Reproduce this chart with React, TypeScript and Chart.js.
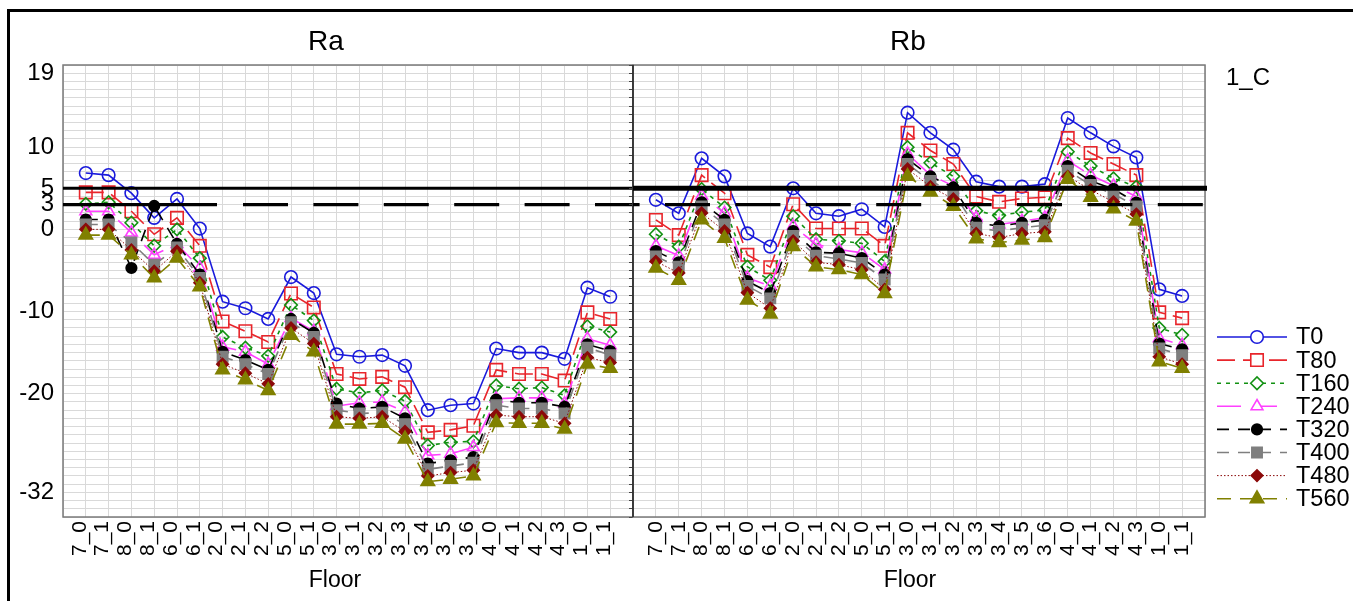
import React, { useEffect, useRef } from 'react';
import { Chart, registerables } from 'chart.js';
import { drawPoint } from 'chart.js/helpers';

Chart.register(...registerables);

const FONT = '"Liberation Sans", Arial, Helvetica, sans-serif';

// ---------------- data ----------------
const FLOORS = ['7_0', '7_1', '8_0', '8_1', '6_0', '6_1', '2_0', '2_1', '2_2', '5_0', '5_1', '3_0', '3_1', '3_2', '3_3', '3_4', '3_5', '3_6', '4_0', '4_1', '4_2', '4_3', '1_0', '1_1'];
const SERIES = ['T0', 'T80', 'T160', 'T240', 'T320', 'T400', 'T480', 'T560'];
const Y_TICK_LABELS = [19, 10, 5, 3, 0, -10, -20, -32];
const Y_MIN = -35;
const Y_MAX = 20;
const THRESHOLD_SOLID = 5;
const THRESHOLD_DASHED = 3;
const PANEL_TITLES = ['Ra', 'Rb'];
const X_TITLE = 'Floor';
const GROUP_LABEL = '1_C';

const RA_T0 = [6.85, 6.6, 4.4, 1.4, 3.7, 0.1, -8.8, -9.6, -10.9, -5.8, -7.75, -15.2, -15.5, -15.3, -16.6, -22.0, -21.4, -21.2, -14.5, -15.0, -15.0, -15.75, -7.1, -8.2];
const RA_T80 = [4.5, 4.5, 2.2, -0.6, 1.4, -2.0, -11.2, -12.4, -13.7, -7.8, -9.5, -17.6, -18.2, -17.95, -19.2, -24.7, -24.4, -23.9, -17.1, -17.6, -17.6, -18.4, -10.1, -10.9];
const RA_T160 = [3.1, 3.3, 0.8, -2.0, 0.0, -3.5, -13.1, -14.4, -15.4, -9.2, -11.1, -19.4, -19.9, -19.6, -20.9, -26.3, -25.9, -25.8, -19.0, -19.4, -19.25, -20.2, -11.8, -12.5];
const RA_T240 = [2.2, 2.2, -0.4, -3.1, -1.8, -4.7, -14.3, -14.9, -16.4, -10.8, -12.4, -21.5, -21.1, -21.0, -22.2, -27.5, -27.3, -26.5, -20.6, -20.5, -20.5, -21.2, -13.3, -14.1];
const RA_T320 = [1.2, 1.2, -4.7, 2.85, -1.75, -5.5, -14.9, -15.9, -17.1, -10.9, -12.6, -21.2, -21.8, -21.6, -23.0, -28.5, -28.1, -27.7, -20.7, -21.1, -21.1, -21.6, -14.0, -14.8];
const RA_T400 = [0.6, 0.6, -1.6, -4.3, -2.2, -5.9, -15.5, -16.4, -17.6, -11.3, -13.1, -22.0, -22.4, -22.3, -23.7, -29.2, -28.8, -28.4, -21.4, -21.8, -21.8, -22.4, -14.4, -15.3];
const RA_T480 = [0.0, 0.0, -2.5, -5.1, -2.65, -6.5, -16.4, -17.5, -18.8, -12.0, -13.9, -22.8, -23.0, -22.8, -24.6, -30.0, -29.6, -29.3, -22.6, -22.8, -22.8, -23.6, -15.6, -16.2];
const RA_T560 = [-0.7, -0.7, -3.1, -5.9, -3.5, -7.0, -17.1, -18.3, -19.6, -12.9, -14.9, -23.7, -23.7, -23.6, -25.5, -30.7, -30.4, -30.0, -23.5, -23.6, -23.6, -24.3, -16.4, -16.9];

const RB_T0 = [3.6, 1.95, 8.65, 6.45, -0.5, -2.1, 5.0, 1.95, 1.6, 2.45, 0.3, 14.2, 11.75, 9.7, 5.8, 5.2, 5.2, 5.5, 13.55, 11.75, 10.1, 8.75, -7.3, -8.1];
const RB_T80 = [1.15, -0.7, 6.6, 4.4, -3.1, -4.6, 3.06, 0.1, 0.1, 0.1, -2.0, 11.75, 9.6, 7.95, 4.0, 3.35, 3.75, 3.9, 11.1, 9.3, 7.95, 6.6, -10.1, -10.8];
const RB_T160 = [-0.6, -2.1, 4.9, 2.65, -4.55, -6.2, 1.6, -1.2, -1.4, -1.7, -3.9, 10.0, 8.1, 6.45, 2.25, 1.7, 2.1, 2.35, 9.45, 7.7, 6.2, 5.2, -12.0, -12.85];
const RB_T240 = [-2.0, -3.2, 4.1, 2.0, -5.9, -6.9, 0.4, -1.8, -2.45, -2.85, -4.9, 9.2, 6.6, 5.3, 1.4, 0.6, 1.0, 1.4, 8.35, 6.6, 5.3, 4.0, -13.25, -14.1];
const RB_T320 = [-2.65, -4.0, 3.3, 1.15, -6.3, -7.75, -0.2, -2.8, -2.9, -3.5, -5.5, 8.55, 6.45, 5.1, 0.8, 0.4, 0.8, 1.15, 7.7, 5.9, 4.9, 3.25, -13.9, -14.6];
const RB_T400 = [-3.3, -4.55, 2.8, 0.6, -6.9, -8.4, -0.8, -3.2, -3.6, -4.1, -6.1, 7.95, 5.9, 4.5, 0.2, -0.2, 0.2, 0.5, 7.15, 5.4, 4.3, 2.8, -14.5, -15.3];
const RB_T480 = [-3.9, -5.3, 2.0, -0.2, -7.7, -9.6, -1.4, -4.0, -4.3, -4.9, -7.3, 7.35, 5.2, 3.7, -0.5, -1.0, -0.5, -0.3, 6.45, 4.8, 3.35, 1.85, -15.5, -16.4];
const RB_T560 = [-4.7, -6.2, 1.15, -1.1, -8.6, -10.3, -2.1, -4.55, -4.9, -5.5, -7.8, 6.45, 4.55, 2.8, -1.15, -1.6, -1.3, -1.0, 6.1, 3.9, 2.5, 1.0, -16.1, -16.9];

const RA = [RA_T0, RA_T80, RA_T160, RA_T240, RA_T320, RA_T400, RA_T480, RA_T560];
const RB = [RB_T0, RB_T80, RB_T160, RB_T240, RB_T320, RB_T400, RB_T480, RB_T560];

// ---------------- styles ----------------
const COLORS = ['#1a1adb', '#e8252b', '#129112', '#ff40ff', '#000000', '#7f7f7f', '#8b0a0a', '#808000'];
const DASHES = [[], [18, 8], [4, 5], [24, 12], [12, 9], [12, 9], [1.5, 2], [14, 9]];
const POINT_STYLES = ['circle', 'rect', 'rectRot', 'triangle', 'circle', 'rect', 'rectRot', 'triangle'];
const POINT_RADII = [6.3, 8.8, 6.3, 6.8, 5.3, 7.3, 5.8, 7.8];
const FILLED = [false, false, false, false, true, true, true, true];
const LINE_WIDTHS = [1.6, 1.6, 1.6, 1.6, 1.6, 1.6, 1, 1.6];
const GRID = '#d9d9d9';

function makeDatasets(series: number[][]) {
  return series.map((vals, i) => ({
    label: SERIES[i],
    data: vals.map((v, j) => ({ x: j, y: v })),
    borderColor: COLORS[i],
    backgroundColor: FILLED[i] ? COLORS[i] : 'rgba(0,0,0,0)',
    borderDash: DASHES[i],
    borderWidth: LINE_WIDTHS[i],
    pointStyle: POINT_STYLES[i],
    pointRadius: POINT_RADII[i],
    pointBorderWidth: 1.6,
    pointBorderColor: COLORS[i],
    pointBackgroundColor: FILLED[i] ? COLORS[i] : 'rgba(0,0,0,0)',
    tension: 0,
    fill: false,
    order: -i,
  }));
}

const framePlugin = {
  id: 'frame',
  beforeDatasetsDraw(chart: any, _a: any, opts: any) {
    const { ctx, chartArea: a } = chart;
    ctx.save();
    ctx.strokeStyle = opts.color || '#777';
    ctx.lineWidth = 1.5;
    ctx.strokeRect(a.left, a.top, a.right - a.left, a.bottom - a.top);
    if (opts.leftColor) {
      ctx.strokeStyle = opts.leftColor;
      ctx.beginPath();
      ctx.moveTo(a.left, a.top);
      ctx.lineTo(a.left, a.bottom);
      ctx.stroke();
    }
    ctx.restore();
  },
};

const refLinesPlugin = {
  id: 'refLines',
  afterDatasetsDraw(chart: any, _a: any, opts: any) {
    const { ctx, chartArea: a } = chart;
    const y = chart.scales.y;
    ctx.save();
    ctx.strokeStyle = '#000';
    let py = y.getPixelForValue(THRESHOLD_SOLID);
    ctx.lineWidth = opts.solidWidth;
    ctx.setLineDash([]);
    ctx.beginPath();
    ctx.moveTo(a.left, py);
    ctx.lineTo(a.right + (opts.solidExtend || 0), py);
    ctx.stroke();
    py = y.getPixelForValue(THRESHOLD_DASHED);
    ctx.lineWidth = opts.dashWidth;
    ctx.setLineDash(opts.dash);
    ctx.lineDashOffset = opts.dashOffset || 0;
    ctx.beginPath();
    ctx.moveTo(a.left, py);
    ctx.lineTo(a.right, py);
    ctx.stroke();
    ctx.restore();
  },
};

const LEG_X0 = 1217;
const LEG_X1 = 1287;
const LEG_MARK_X = 1257;
const LEG_TEXT_X = 1296;
const LEG_TOP = 337;
const LEG_STEP = 23.1;

const legendPlugin = {
  id: 'sideLegend',
  afterDraw(chart: any, _a: any, opts: any) {
    const ctx = chart.ctx;
    const off = opts.canvasLeft || 0;
    chart.data.datasets.forEach((ds: any, i: number) => {
      const y = LEG_TOP + i * LEG_STEP;
      ctx.save();
      ctx.strokeStyle = COLORS[i];
      ctx.lineWidth = LINE_WIDTHS[i];
      ctx.setLineDash(DASHES[i]);
      ctx.beginPath();
      ctx.moveTo(LEG_X0 - off, y);
      ctx.lineTo(LEG_X1 - off, y);
      ctx.stroke();
      ctx.setLineDash([]);
      ctx.fillStyle = FILLED[i] ? COLORS[i] : '#fff';
      ctx.strokeStyle = COLORS[i];
      ctx.lineWidth = 1.6;
      drawPoint(ctx, { pointStyle: POINT_STYLES[i], radius: POINT_RADII[i], borderWidth: 1.6, rotation: 0 } as any, LEG_MARK_X - off, y);
      ctx.fillStyle = '#000';
      ctx.font = `23.5px ${FONT}`;
      ctx.textBaseline = 'middle';
      ctx.textAlign = 'left';
      ctx.fillText(ds.label, LEG_TEXT_X - off, y + 1);
      ctx.restore();
    });
  },
};

function xScale(labelOffset: number) {
  return {
    type: 'linear',
    min: -1,
    max: FLOORS.length,
    afterBuildTicks: (s: any) => {
      s.ticks = [-1, ...FLOORS.map((_, i) => i), FLOORS.length].map((value) => ({ value }));
    },
    afterFit: (s: any) => {
      s.height = 84;
    },
    ticks: {
      autoSkip: false,
      minRotation: 90,
      maxRotation: 90,
      padding: 4,
      labelOffset,
      color: '#000',
      font: { family: FONT, size: 21 },
      callback: (v: any) => FLOORS[v] ?? '',
    },
    grid: { color: GRID, lineWidth: 1, drawTicks: false },
    border: { display: false },
  };
}

function yScale(showLabels: boolean, width: number) {
  return {
    type: 'linear',
    min: Y_MIN,
    max: Y_MAX,
    afterBuildTicks: (s: any) => {
      const t: any[] = [];
      for (let v = Y_MIN; v <= Y_MAX; v++) t.push({ value: v });
      s.ticks = t;
    },
    afterFit: (s: any) => {
      s.width = width;
    },
    ticks: {
      display: showLabels,
      autoSkip: false,
      padding: 9,
      color: '#000',
      font: { family: FONT, size: 24 },
      callback: (v: any) => (Y_TICK_LABELS.includes(v) ? String(v) : ''),
    },
    grid: { color: GRID, lineWidth: 1, drawTicks: !showLabels, tickLength: 4, tickColor: '#444' },
    border: { display: false },
  };
}

const RA_CANVAS = { left: 0, width: 683 };
const RB_CANVAS = { left: 593, width: 760 };

export default function App() {
  const raRef = useRef<HTMLCanvasElement>(null);
  const rbRef = useRef<HTMLCanvasElement>(null);

  useEffect(() => {
    const ra = new Chart(raRef.current as HTMLCanvasElement, {
      type: 'line',
      data: { datasets: makeDatasets(RA) as any },
      options: {
        responsive: false,
        animation: false,
        events: [],
        layout: { padding: { left: 0, right: 50, top: 65, bottom: 0 } },
        plugins: {
          legend: { display: false },
          tooltip: { enabled: false },
          frame: { color: '#7a7a7a' },
          refLines: {
            solidWidth: 3,
            dashWidth: 3.2,
            dash: [154, 26, 45, 25.4, 45, 25.4, 45, 25.4, 45, 25.4, 45, 25.4, 45, 25.4, 45, 25.4],
            dashOffset: 0,
          },
        } as any,
        scales: { x: xScale(-6), y: yScale(true, 63) } as any,
      },
      plugins: [framePlugin, refLinesPlugin],
    });
    const rb = new Chart(rbRef.current as HTMLCanvasElement, {
      type: 'line',
      data: { datasets: makeDatasets(RB) as any },
      options: {
        responsive: false,
        animation: false,
        events: [],
        layout: { padding: { left: 40, right: 148, top: 65, bottom: 0 } },
        plugins: {
          legend: { display: false },
          tooltip: { enabled: false },
          frame: { color: '#7a7a7a', leftColor: '#222' },
          refLines: { solidWidth: 5, dashWidth: 3.2, dash: [45, 25.4], dashOffset: 38.4, solidExtend: 2 },
          sideLegend: { canvasLeft: RB_CANVAS.left },
        } as any,
        scales: { x: xScale(0), y: yScale(false, 0) } as any,
      },
      plugins: [framePlugin, refLinesPlugin, legendPlugin],
    });
    return () => {
      ra.destroy();
      rb.destroy();
    };
  }, []);

  const text = (s: string, cx: number, top: number, size: number, w = 120) => (
    <div
      style={{
        position: 'absolute',
        left: cx - w / 2,
        top,
        width: w,
        textAlign: 'center',
        fontSize: size,
        lineHeight: `${size}px`,
        fontFamily: FONT,
        color: '#000',
        whiteSpace: 'nowrap',
      }}
    >
      {s}
    </div>
  );

  return (
    <div
      style={{
        position: 'absolute',
        left: 0,
        top: 0,
        width: 1353,
        height: 601,
        overflow: 'hidden',
        background: '#fff',
      }}
    >
      <div
        style={{
          position: 'absolute',
          left: 7,
          top: 9,
          width: 1400,
          height: 700,
          border: '3px solid #000',
          boxSizing: 'border-box',
        }}
      />
      <canvas
        ref={raRef}
        width={RA_CANVAS.width}
        height={601}
        style={{ position: 'absolute', left: RA_CANVAS.left, top: 0, width: RA_CANVAS.width, height: 601 }}
      />
      <canvas
        ref={rbRef}
        width={RB_CANVAS.width}
        height={601}
        style={{ position: 'absolute', left: RB_CANVAS.left, top: 0, width: RB_CANVAS.width, height: 601 }}
      />
      {text(PANEL_TITLES[0], 326, 27, 28)}
      {text(PANEL_TITLES[1], 908, 27, 28)}
      {text(X_TITLE, 335, 568, 23)}
      {text(X_TITLE, 910, 568, 23)}
      <div
        style={{
          position: 'absolute',
          left: 1226,
          top: 65,
          fontSize: 24,
          lineHeight: '24px',
          fontFamily: FONT,
          color: '#000',
          whiteSpace: 'nowrap',
        }}
      >
        {GROUP_LABEL}
      </div>
    </div>
  );
}
